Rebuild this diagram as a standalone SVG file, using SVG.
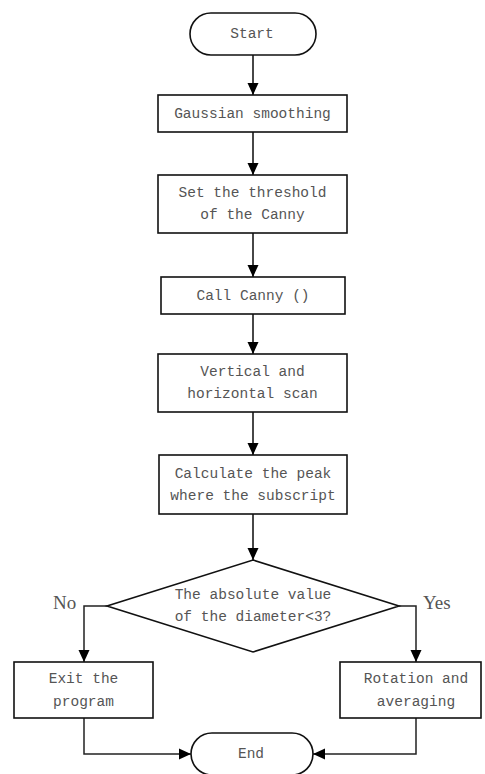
<svg xmlns="http://www.w3.org/2000/svg" width="485" height="774" viewBox="0 0 485 774">
<defs>
<marker id="ah" markerUnits="userSpaceOnUse" markerWidth="12" markerHeight="12" viewBox="0 0 12 12" refX="12" refY="6" orient="auto">
<path d="M0,0.5 L12,6 L0,11.5 Z" fill="#000"/>
</marker>
<style>
.box{fill:#fff;stroke:#111;stroke-width:1.6}
.t{font-family:"Liberation Mono","DejaVu Sans Mono",monospace;font-size:14.5px;fill:#555;text-anchor:middle;dominant-baseline:central}
.lbl{font-family:"Liberation Serif","Times New Roman",serif;font-size:19px;fill:#555}
.c{fill:none;stroke:#333;stroke-width:1.8}
.c2{fill:none;stroke:#222;stroke-width:1.5}
</style>
</defs>
<rect width="485" height="774" fill="#fff"/>
<g id="connectors">
<path class="c" d="M253,55 V95" marker-end="url(#ah)"/>
<path class="c" d="M253,132 V175" marker-end="url(#ah)"/>
<path class="c" d="M253,233 V277" marker-end="url(#ah)"/>
<path class="c" d="M253,314 V354" marker-end="url(#ah)"/>
<path class="c" d="M253,412 V455" marker-end="url(#ah)"/>
<path class="c" d="M253,514 V560" marker-end="url(#ah)"/>
<path class="c2" d="M107,606 H84 V662" marker-end="url(#ah)"/>
<path class="c2" d="M399,606 H416 V662" marker-end="url(#ah)"/>
<path class="c2" d="M84,718 V754 H191" marker-end="url(#ah)"/>
<path class="c2" d="M416,718 V754 H313" marker-end="url(#ah)"/>
<text class="lbl" x="53" y="609">No</text>
<text class="lbl" x="423" y="609">Yes</text>
</g>
<g id="start">
<rect class="box" x="190" y="13" width="126" height="42" rx="21"/>
<text class="t" x="252" y="34">Start</text>
</g>
<g id="gaussian">
<rect class="box" x="158" y="95" width="189" height="37"/>
<text class="t" x="252.5" y="114">Gaussian smoothing</text>
</g>
<g id="threshold">
<rect class="box" x="158" y="175" width="189" height="58"/>
<text class="t" x="252.5" y="193">Set the threshold</text>
<text class="t" x="252.5" y="215">of the Canny</text>
</g>
<g id="callcanny">
<rect class="box" x="161" y="277" width="184" height="37"/>
<text class="t" x="253" y="296">Call Canny ()</text>
</g>
<g id="scan">
<rect class="box" x="158" y="354" width="189" height="58"/>
<text class="t" x="252.5" y="372">Vertical and</text>
<text class="t" x="252.5" y="394">horizontal scan</text>
</g>
<g id="calculate">
<rect class="box" x="159" y="455" width="188" height="59"/>
<text class="t" x="253" y="474">Calculate the peak</text>
<text class="t" x="253" y="496">where the subscript</text>
</g>
<g id="decision">
<polygon class="box" points="253,560 399,606 253,652 107,606"/>
<text class="t" x="253" y="595">The absolute value</text>
<text class="t" x="253" y="617">of the diameter&lt;3?</text>
</g>
<g id="exit">
<rect class="box" x="14" y="662" width="139" height="56"/>
<text class="t" x="83.5" y="679">Exit the</text>
<text class="t" x="83.5" y="702">program</text>
</g>
<g id="rotation">
<rect class="box" x="340" y="662" width="141" height="56"/>
<text class="t" x="416" y="679">Rotation and</text>
<text class="t" x="416" y="702">averaging</text>
</g>
<g id="end">
<rect class="box" x="191" y="733" width="122" height="42" rx="21"/>
<text class="t" x="251" y="754">End</text>
</g>
</svg>
